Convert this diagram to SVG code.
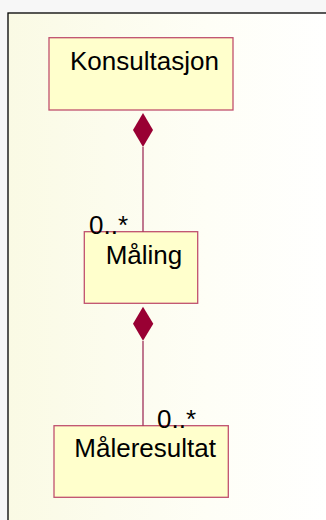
<svg xmlns="http://www.w3.org/2000/svg" width="326" height="520" viewBox="0 0 326 520">
<defs>
<linearGradient id="bg" x1="0" y1="0" x2="1" y2="0">
<stop offset="0" stop-color="#fafae4"/>
<stop offset="0.6" stop-color="#fefef6"/>
<stop offset="1" stop-color="#ffffff"/>
</linearGradient>
</defs>
<style>
.cls rect{fill:#ffffcc;stroke:#c0506e;stroke-width:1.3}
text{font-family:"Liberation Sans",Arial,sans-serif;font-size:26px;fill:#000}
.conn line{stroke:#a0305a;stroke-width:1.3}
.dia{fill:#990033}
</style>
<rect x="0" y="0" width="326" height="520" fill="#f7f7f7"/>
<rect x="8" y="13" width="330" height="520" fill="url(#bg)" stroke="#000" stroke-width="1.3"/>
<g id="Konsultasjon" class="cls">
<rect x="49" y="37.7" width="184" height="72.3"/>
<text x="70" y="70">Konsultasjon</text>
</g>
<g id="Maling" class="cls">
<rect x="84.3" y="231.7" width="113.4" height="71.6"/>
<text x="105.7" y="264">Måling</text>
</g>
<g id="Maleresultat" class="cls">
<rect x="54" y="425.7" width="174.3" height="71.6"/>
<text x="74.3" y="457">Måleresultat</text>
</g>
<g id="connectors" class="conn">
<line x1="143" y1="147" x2="143" y2="231.7"/>
<line x1="143" y1="341" x2="143" y2="425.7"/>
<path class="dia" d="M143 113 L153 130 L143 147 L133 130 Z"/>
<path class="dia" d="M143 306.7 L153.3 323.7 L143 340.7 L133 323.7 Z"/>
<text x="89" y="234">0..*</text>
<text x="157" y="428">0..*</text>
</g>
</svg>
